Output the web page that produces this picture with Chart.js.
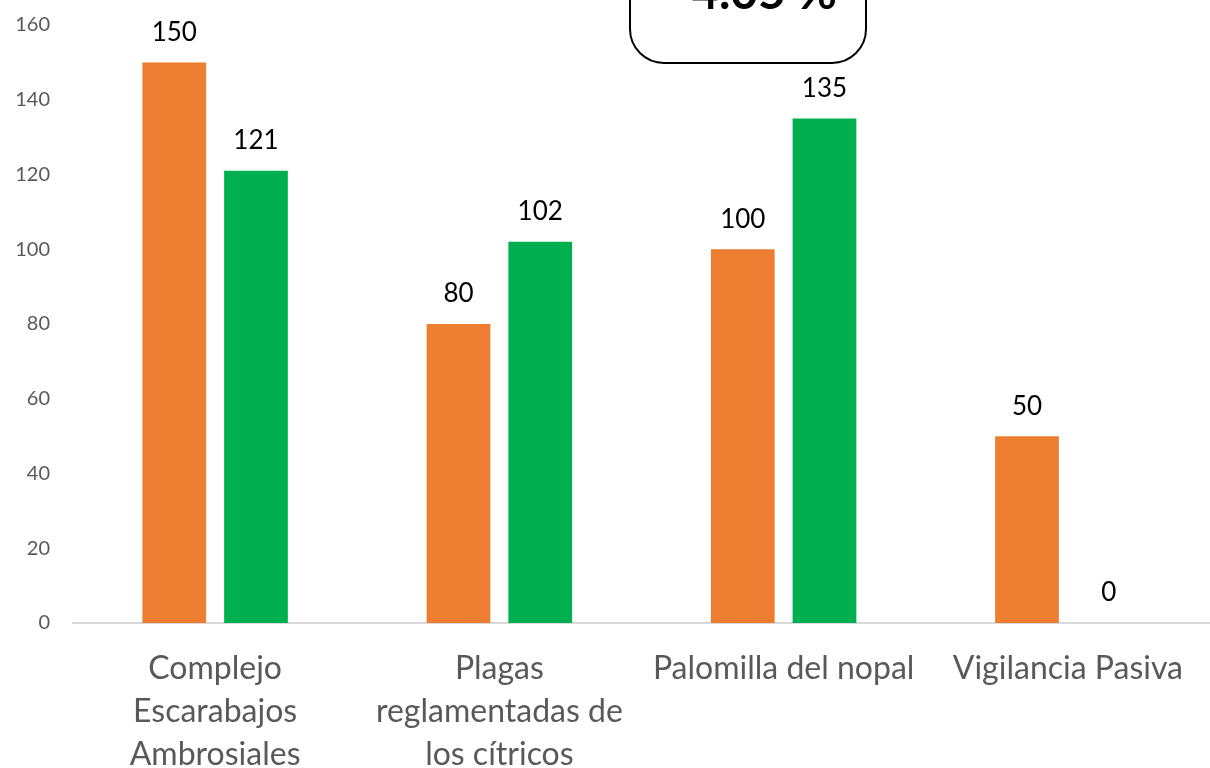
<!DOCTYPE html>
<html>
<head>
<meta charset="utf-8">
<script src="https://cdn.jsdelivr.net/npm/chart.js@4.4.1/dist/chart.umd.min.js"></script>
<style>
  html, body { margin: 0; padding: 0; background: #ffffff; }
  #wrap { width: 1210px; height: 768px; position: relative; }
</style>
</head>
<body>
<div id="wrap"><canvas id="c" width="1210" height="768"></canvas></div>
<script>
const categories = [
  ["Complejo", "Escarabajos", "Ambrosiales"],
  ["Plagas", "reglamentadas de", "los cítricos"],
  "Palomilla del nopal",
  "Vigilancia Pasiva"
];
const seriesOrange = [150, 80, 100, 50];
const seriesGreen = [121, 102, 135, 0];
const yTicks = [0, 20, 40, 60, 80, 100, 120, 140, 160];
const boxText = "4.05 %";

const FONT = "Lato, 'Open Sans', sans-serif";

const valueLabels = {
  id: 'valueLabels',
  afterDatasetsDraw(chart) {
    const ctx = chart.ctx;
    ctx.save();
    ctx.font = "26px " + FONT;
    ctx.fillStyle = "#000000";
    ctx.textAlign = "center";
    ctx.textBaseline = "middle";
    chart.data.datasets.forEach((ds, i) => {
      const meta = chart.getDatasetMeta(i);
      meta.data.forEach((bar, j) => {
        ctx.fillText(String(ds.data[j]), bar.x, bar.y - 30);
      });
    });
    ctx.restore();
  }
};

const calloutBox = {
  id: 'calloutBox',
  afterDraw(chart) {
    const ctx = chart.ctx;
    ctx.save();
    const x = 630, y = -60, w = 236, h = 123, r = 34;
    ctx.beginPath();
    ctx.moveTo(x + r, y);
    ctx.lineTo(x + w - r, y);
    ctx.arcTo(x + w, y, x + w, y + r, r);
    ctx.lineTo(x + w, y + h - r);
    ctx.arcTo(x + w, y + h, x + w - r, y + h, r);
    ctx.lineTo(x + r, y + h);
    ctx.arcTo(x, y + h, x, y + h - r, r);
    ctx.lineTo(x, y + r);
    ctx.arcTo(x, y, x + r, y, r);
    ctx.closePath();
    ctx.fillStyle = "#ffffff";
    ctx.fill();
    ctx.lineWidth = 2;
    ctx.strokeStyle = "#000000";
    ctx.stroke();
    ctx.font = "bold 48px " + FONT;
    ctx.fillStyle = "#000000";
    ctx.textAlign = "center";
    ctx.textBaseline = "alphabetic";
    ctx.fillText(boxText, 764, 9);
    ctx.restore();
  }
};

new Chart(document.getElementById('c'), {
  type: 'bar',
  data: {
    labels: categories,
    datasets: [
      { data: seriesOrange, backgroundColor: '#ED7D31', categoryPercentage: 0.575, barPercentage: 0.78 },
      { data: seriesGreen, backgroundColor: '#00B050', categoryPercentage: 0.575, barPercentage: 0.78 }
    ]
  },
  options: {
    responsive: false,
    animation: false,
    layout: { padding: { top: 25, right: -5, left: 0, bottom: 0 } },
    plugins: { legend: { display: false }, tooltip: { enabled: false } },
    scales: {
      y: {
        min: 0, max: 160,
        afterBuildTicks(scale) { scale.ticks = yTicks.map(v => ({ value: v })); },
        afterFit(scale) { scale.width = 73; scale.paddingTop = 0; scale.paddingBottom = 0; },
        grid: { display: false, drawTicks: false },
        border: { display: false },
        ticks: { color: '#595959', font: { family: FONT, size: 20 }, padding: 23 }
      },
      x: {
        afterFit(scale) { scale.height = 145; scale.paddingLeft = 0; scale.paddingRight = 0; },
        grid: { display: false },
        border: { display: true, color: '#d9d9d9', width: 2 },
        ticks: { color: '#595959', font: { family: FONT, size: 32, lineHeight: 1.34 }, padding: 16, maxRotation: 0, autoSkip: false }
      }
    }
  },
  plugins: [valueLabels, calloutBox]
});
</script>
</body>
</html>
